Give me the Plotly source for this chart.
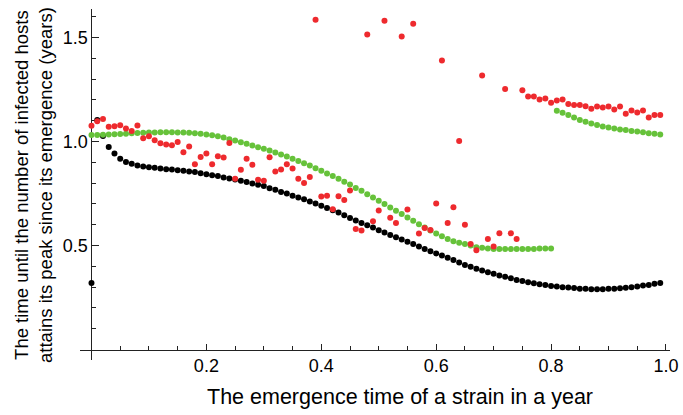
import plotly.graph_objects as go

# Emergence time of a strain within a year
emergence_time = [
    0.00, 0.01, 0.02, 0.03, 0.04, 0.05, 0.06, 0.07, 0.08, 0.09,
    0.10, 0.11, 0.12, 0.13, 0.14, 0.15, 0.16, 0.17, 0.18, 0.19,
    0.20, 0.21, 0.22, 0.23, 0.24, 0.25, 0.26, 0.27, 0.28, 0.29,
    0.30, 0.31, 0.32, 0.33, 0.34, 0.35, 0.36, 0.37, 0.38, 0.39,
    0.40, 0.41, 0.42, 0.43, 0.44, 0.45, 0.46, 0.47, 0.48, 0.49,
    0.50, 0.51, 0.52, 0.53, 0.54, 0.55, 0.56, 0.57, 0.58, 0.59,
    0.60, 0.61, 0.62, 0.63, 0.64, 0.65, 0.66, 0.67, 0.68, 0.69,
    0.70, 0.71, 0.72, 0.73, 0.74, 0.75, 0.76, 0.77, 0.78, 0.79,
    0.80, 0.81, 0.82, 0.83, 0.84, 0.85, 0.86, 0.87, 0.88, 0.89,
    0.90, 0.91, 0.92, 0.93, 0.94, 0.95, 0.96, 0.97, 0.98, 0.99,
]

black_series = [
    0.320, 1.104, 1.027, 0.974, 0.942, 0.917, 0.902, 0.893, 0.885, 0.880,
    0.877, 0.874, 0.870, 0.867, 0.865, 0.862, 0.859, 0.856, 0.853, 0.848,
    0.843, 0.838, 0.834, 0.827, 0.822, 0.817, 0.811, 0.805, 0.798, 0.792,
    0.786, 0.776, 0.768, 0.758, 0.750, 0.740, 0.731, 0.723, 0.712, 0.702,
    0.691, 0.681, 0.670, 0.659, 0.646, 0.633, 0.620, 0.609, 0.598, 0.587,
    0.574, 0.563, 0.551, 0.540, 0.529, 0.518, 0.507, 0.495, 0.484, 0.473,
    0.462, 0.452, 0.441, 0.431, 0.419, 0.407, 0.398, 0.388, 0.380, 0.372,
    0.364, 0.356, 0.350, 0.343, 0.335, 0.330, 0.324, 0.319, 0.314, 0.311,
    0.306, 0.303, 0.300, 0.298, 0.296, 0.292, 0.292, 0.290, 0.290, 0.290,
    0.292, 0.292, 0.295, 0.297, 0.300, 0.303, 0.308, 0.311, 0.316, 0.320,
]

green_series = [
    1.032, 1.032, 1.033, 1.034, 1.035, 1.036, 1.038, 1.040, 1.041, 1.042,
    1.043, 1.044, 1.045, 1.045, 1.045, 1.044, 1.043, 1.042, 1.040, 1.037,
    1.034, 1.030, 1.025, 1.019, 1.011, 1.005, 0.997, 0.989, 0.981, 0.973,
    0.965, 0.957, 0.947, 0.938, 0.928, 0.917, 0.906, 0.896, 0.885, 0.872,
    0.859, 0.846, 0.834, 0.821, 0.807, 0.793, 0.777, 0.763, 0.747, 0.731,
    0.715, 0.700, 0.683, 0.667, 0.652, 0.635, 0.619, 0.603, 0.587, 0.572,
    0.558, 0.545, 0.532, 0.521, 0.514, 0.507, 0.500, 0.492, 0.489, 0.486,
    0.484, 0.483, 0.483, 0.483, 0.483, 0.483, 0.484, 0.484, 0.486, 0.486,
    0.486, 1.148, 1.138, 1.127, 1.115, 1.104, 1.095, 1.087, 1.079, 1.072,
    1.067, 1.063, 1.058, 1.055, 1.051, 1.048, 1.045, 1.040, 1.037, 1.034,
]

red_series = [
    1.076, 1.098, 1.108, 1.071, 1.073, 1.078, 1.063, 1.051, 1.077, 1.016,
    1.026, 1.006, 0.992, 0.986, 0.982, 0.998, 0.948, 0.976, 0.891, 0.926,
    0.942, 0.891, 0.929, 0.923, 0.993, 0.821, 0.864, 0.917, 0.888, 0.816,
    0.811, 0.925, 0.856, 0.866, 0.891, 0.870, 0.821, 0.801, 0.830, 1.585,
    0.736, 0.740, 0.675, 0.737, 0.719, 0.765, 0.580, 0.572, 1.514, 0.617,
    0.668, 1.580, 0.634, 0.609, 1.505, 0.673, 1.566, 0.558, 0.584, 0.575,
    0.702, 1.390, 0.609, 0.684, 1.002, 0.600, 0.508, 0.478, 1.317, 0.532,
    0.495, 0.559, 1.252, 0.559, 0.531, 1.247, 1.216, 1.216, 1.202, 1.207,
    1.186, 1.197, 1.202, 1.181, 1.175, 1.175, 1.170, 1.157, 1.168, 1.163,
    1.168, 1.154, 1.168, 1.133, 1.149, 1.139, 1.149, 1.115, 1.128, 1.127,
]

x_tick_vals = [0.2, 0.4, 0.6, 0.8, 1.0]
x_tick_text = ["0.2", "0.4", "0.6", "0.8", "1.0"]
x_minor_vals = [0.05, 0.1, 0.15, 0.25, 0.3, 0.35, 0.45, 0.5, 0.55, 0.65, 0.7, 0.75, 0.85, 0.9, 0.95]
y_tick_vals = [0.5, 1.0, 1.5]
y_tick_text = ["0.5", "1.0", "1.5"]
y_minor_vals = [0.1, 0.2, 0.3, 0.4, 0.6, 0.7, 0.8, 0.9, 1.1, 1.2, 1.3, 1.4, 1.6]

x_range = [-0.02, 1.007]
y_range = [-0.05, 1.637]

x_title = "The emergence time of a strain in a year"
y_title = "The time until the number of infected hosts<br>attains its peak since its emergence (years)"

FONT = "Liberation Sans, Arial, Helvetica, sans-serif"

fig = go.Figure()
for series, color in [(black_series, "#000000"), (green_series, "#66C23A"), (red_series, "#EE2A2E")]:
    fig.add_trace(go.Scatter(
        x=emergence_time, y=series, mode="markers",
        marker=dict(color=color, size=6, line=dict(width=0)),
        showlegend=False, cliponaxis=False,
    ))

x_axis_pos = (0 - y_range[0]) / (y_range[1] - y_range[0])
y_axis_pos = (0 - x_range[0]) / (x_range[1] - x_range[0])

fig.update_layout(
    width=683, height=415,
    margin=dict(l=80, r=13, t=9, b=55, autoexpand=False),
    paper_bgcolor="white", plot_bgcolor="white",
    font=dict(family=FONT, color="black"),
    xaxis=dict(
        range=x_range, anchor="free", position=x_axis_pos, automargin=False,
        showline=True, linecolor="#222", linewidth=1,
        showgrid=False, zeroline=False,
        tickmode="array", tickvals=x_tick_vals, ticktext=x_tick_text,
        ticks="inside", ticklen=6, tickwidth=1, tickcolor="#222",
        tickfont=dict(size=18, family=FONT), ticklabeloverflow="allow",
        minor=dict(tickmode="array", tickvals=x_minor_vals, ticks="inside",
                   ticklen=4, tickwidth=1, tickcolor="#222"),
        layer="below traces",
    ),
    yaxis=dict(
        range=y_range, anchor="free", position=y_axis_pos, automargin=False,
        showline=True, linecolor="#222", linewidth=1,
        showgrid=False, zeroline=False,
        tickmode="array", tickvals=y_tick_vals, ticktext=y_tick_text,
        ticks="inside", ticklen=7, tickwidth=1, tickcolor="#222",
        tickfont=dict(size=18, family=FONT), ticklabeloverflow="allow",
        minor=dict(tickmode="array", tickvals=y_minor_vals, ticks="inside",
                   ticklen=4, tickwidth=1, tickcolor="#222"),
        layer="below traces",
    ),
    annotations=[
        dict(text=x_title, xref="paper", yref="paper", x=0.5424, y=-0.105,
             xanchor="center", yanchor="middle", showarrow=False,
             font=dict(size=21.5, family=FONT, color="black")),
        dict(text=y_title, xref="paper", yref="paper", x=-0.078, y=0.4986,
             xanchor="center", yanchor="middle", showarrow=False, textangle=-90,
             font=dict(size=18.5, family=FONT, color="black")),
    ],
)

# remove the default page margin so the 683x415 figure fills the window exactly
fig.write_html(
    "out.html",
    config={"displayModeBar": False},
    post_script="document.documentElement.style.margin='0';document.body.style.margin='0';"
                "document.documentElement.style.overflow='hidden';document.body.style.overflow='hidden';",
)
